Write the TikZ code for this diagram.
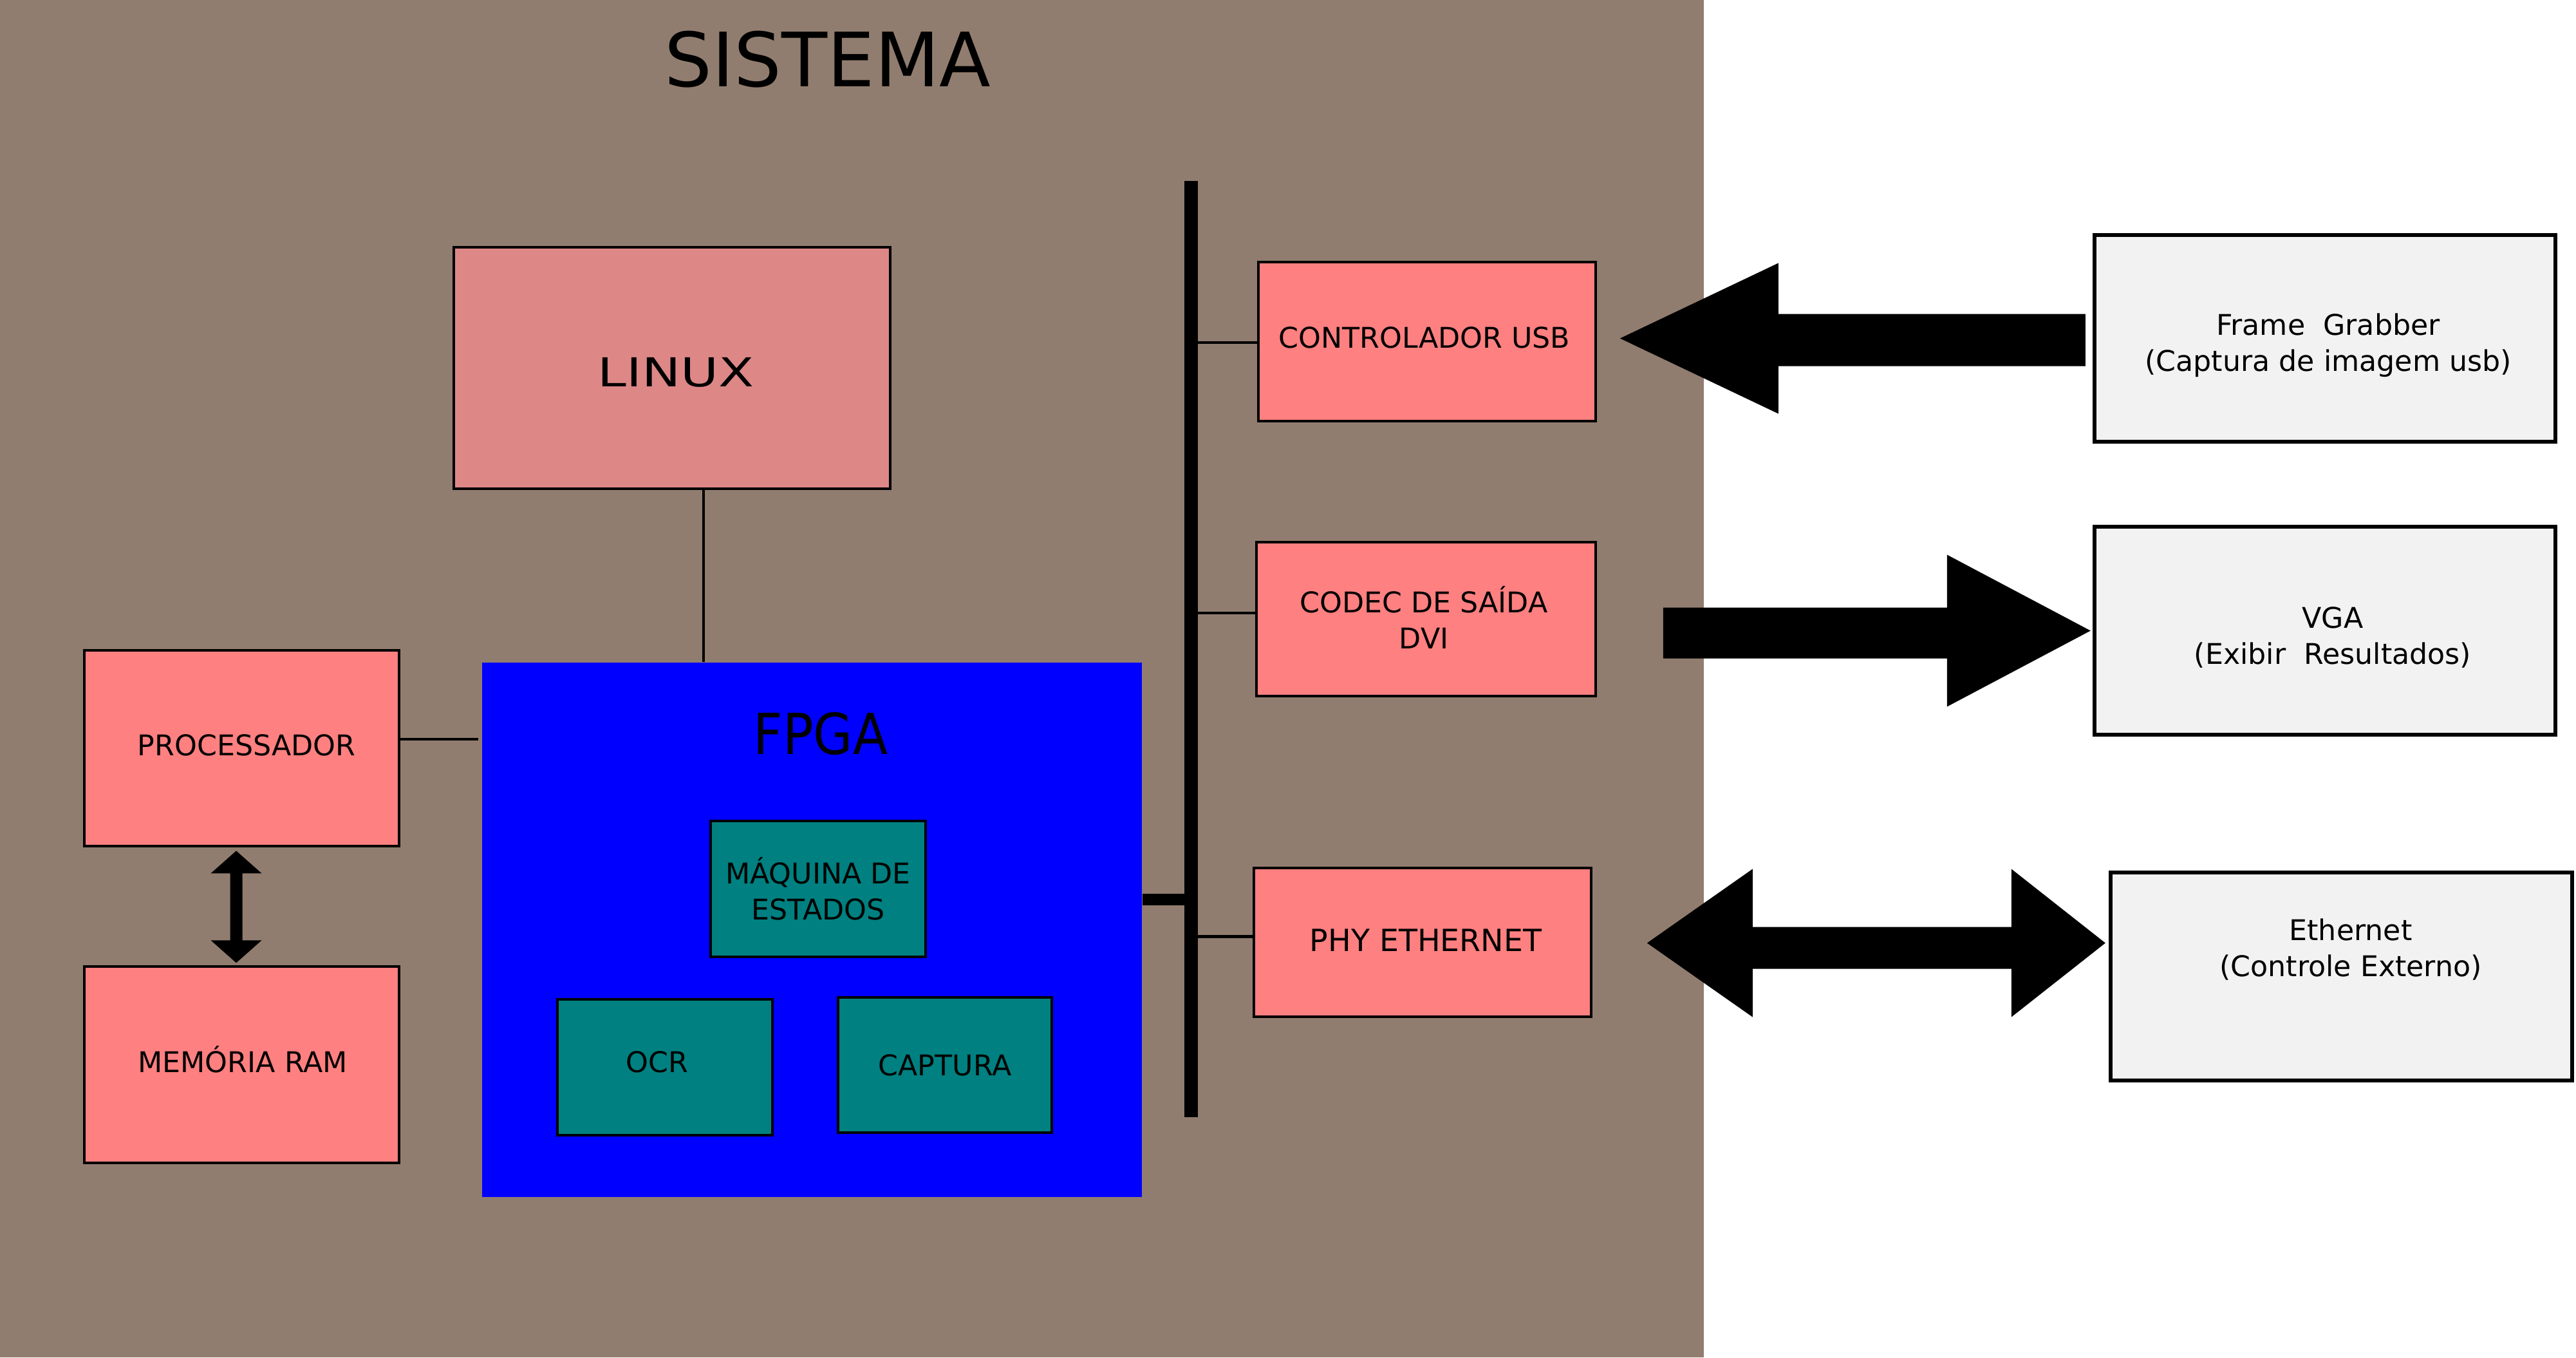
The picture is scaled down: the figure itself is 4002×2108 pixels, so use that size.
\documentclass[tikz,border=0pt]{standalone}
\usepackage{fontspec}
\setmainfont{DejaVu Sans}
\usetikzlibrary{calc}
\definecolor{bgbrown}{RGB}{145,125,111}
\definecolor{pinkc}{RGB}{255,128,128}
\definecolor{linuxc}{RGB}{222,135,135}
\definecolor{tealc}{RGB}{0,128,128}
\definecolor{greyc}{RGB}{242,242,242}
\definecolor{fpgac}{RGB}{0,0,255}
\newcommand\boxfont{\fontsize{12.6}{15.9}\selectfont}
\begin{document}
\begin{tikzpicture}[x=0.01cm,y=-0.01cm,
  pinkbox/.style={draw=black, line width=1.28pt, fill=pinkc, inner sep=0pt, align=center, font=\boxfont},
  linuxbox/.style={draw=black, line width=1.1pt, fill=linuxc, inner sep=0pt, align=center},
  tealbox/.style={draw=black, line width=1.33pt, fill=tealc, inner sep=0pt, align=center, font=\boxfont},
  greybox/.style={draw=black, line width=1.7pt, fill=greyc, inner sep=0pt, align=center, font=\boxfont},
  txt/.style={inner sep=0pt, align=center, font=\boxfont},
  stub/.style={line width=1.2pt},
  bigarrow/.style={fill=black}]
\useasboundingbox (0,0) rectangle (4002,2108);
\fill[white] (0,0) rectangle (4002,2108);
\fill[bgbrown] (0,0) rectangle (2647,2108);

% title
\node[inner sep=0pt, font=\fontsize{33.1}{40}\selectfont] (title) at (1286,92.5) {SISTEMA};

% left side
\node[linuxbox, minimum width=6.78cm, minimum height=3.75cm] (linux) at (1044,571.5) {};
\node[inner sep=0pt, font=\fontsize{17.6}{20}\selectfont] (linuxtxt) at (1050,578) {\scalebox{1.3}[1]{LINUX}};
\node[pinkbox, minimum width=4.89cm, minimum height=3.04cm] (proc) at (375.5,1162) {};
\node[txt] (proctxt) at (383,1157) {PROCESSADOR};
\node[pinkbox, minimum width=4.89cm, minimum height=3.05cm] (mem) at (375.5,1653.5) {};
\node[txt] (memtxt) at (377,1645) {MEMÓRIA RAM};

\node[fill=fpgac, inner sep=0pt, minimum width=10.25cm, minimum height=8.30cm] (fpga) at (1261.5,1444) {};
\node[inner sep=0pt, font=\fontsize{25}{30}\selectfont] (fpgalbl) at (1275,1139) {\scalebox{0.9}[1]{FPGA}};
\node[tealbox, minimum width=3.34cm, minimum height=2.11cm] (fsm) at (1271,1380.5) {MÁQUINA DE\\ESTADOS};
\node[tealbox, minimum width=3.34cm, minimum height=2.11cm] (ocr) at (1033,1657.5) {};
\node[txt] (ocrtxt) at (1021,1649) {OCR};
\node[tealbox, minimum width=3.32cm, minimum height=2.10cm] (cap) at (1468,1654) {CAPTURA};

% bus and peripherals
\coordinate (bustop) at (1850.5,281);
\coordinate (busbot) at (1850.5,1735);
\node[pinkbox, minimum width=5.24cm, minimum height=2.47cm] (usb) at (2217,530.5) {};
\node[txt] (usbtxt) at (2213,524) {CONTROLADOR USB};
\node[pinkbox, minimum width=5.27cm, minimum height=2.39cm] (codec) at (2215.5,961.5) {};
\node[txt] (codectxt) at (2212,959) {CODEC DE SAÍDA\\DVI};
\node[pinkbox, minimum width=5.24cm, minimum height=2.31cm] (phy) at (2210,1463.5) {};
\node[txt, font=\fontsize{13.5}{16}\selectfont] (phytxt) at (2215,1460) {PHY ETHERNET};

% external boxes
\node[greybox, minimum width=7.16cm, minimum height=3.21cm] (fg) at (3612,525.5) {};
\node[txt] (fgtxt) at (3617,536) {Frame~~Grabber\\(Captura de imagem usb)};
\node[greybox, minimum width=7.16cm, minimum height=3.23cm] (vga) at (3612,979.5) {};
\node[txt] (vgatxt) at (3624,990) {VGA\\(Exibir~~Resultados)};
\node[greybox, minimum width=7.17cm, minimum height=3.23cm] (eth) at (3637.5,1516.5) {};
\node[txt] (ethtxt) at (3652,1475) {Ethernet\\(Controle Externo)};

% connectors
\draw[line width=0.9pt] (linux.south -| 1093,0) -- (fpga.north -| 1093,0);
\draw[line width=1.14pt] (proc.east |- 0,1148) -- ($(fpga.west |- 0,1148)+(-5,0)$);
\draw[line width=5.97pt] (bustop) -- (busbot);
\draw[line width=5.1pt] (fpga.east |- 0,1397) -- (bustop |- 0,1397);
\draw[stub] (usb.west |- 0,532) -- (bustop |- 0,532);
\draw[stub] (codec.west |- 0,952) -- (bustop |- 0,952);
\draw[stub] (phy.west |- 0,1454.5) -- (bustop |- 0,1454.5);

% processor <-> memory double arrow
\coordinate (ramtop) at (proc.south -| 367,0);
\fill[shift={(ramtop)}] (0,5) -- (39.5,40) -- (9.5,40) -- (9.5,144) -- (39.5,144) -- (0,179)
  -- (-39.5,144) -- (-9.5,144) -- (-9.5,40) -- (-39.5,40) -- cycle;

% big arrows
\coordinate (usbtip) at ($(fg.west)+(-734,0)$);
\fill[bigarrow, shift={(usbtip)}] (0,0) -- (246,-117) -- (246,-38) -- (723,-38) -- (723,43)
  -- (246,43) -- (246,117) -- cycle;
\coordinate (vgatip) at ($(vga.west)+(-3,0)$);
\fill[bigarrow, shift={(vgatip)}] (0,0) -- (-223,-118) -- (-223,-36) -- (-664,-36) -- (-664,43)
  -- (-223,43) -- (-223,118) -- cycle;
\coordinate (ethtip) at ($(eth.west)+(-717,-52)$);
\fill[bigarrow, shift={(ethtip)}] (0,0) -- (164,-115) -- (164,-25) -- (566,-25) -- (566,-115)
  -- (712,0) -- (566,115) -- (566,40) -- (164,40) -- (164,115) -- cycle;
\end{tikzpicture}
\end{document}
